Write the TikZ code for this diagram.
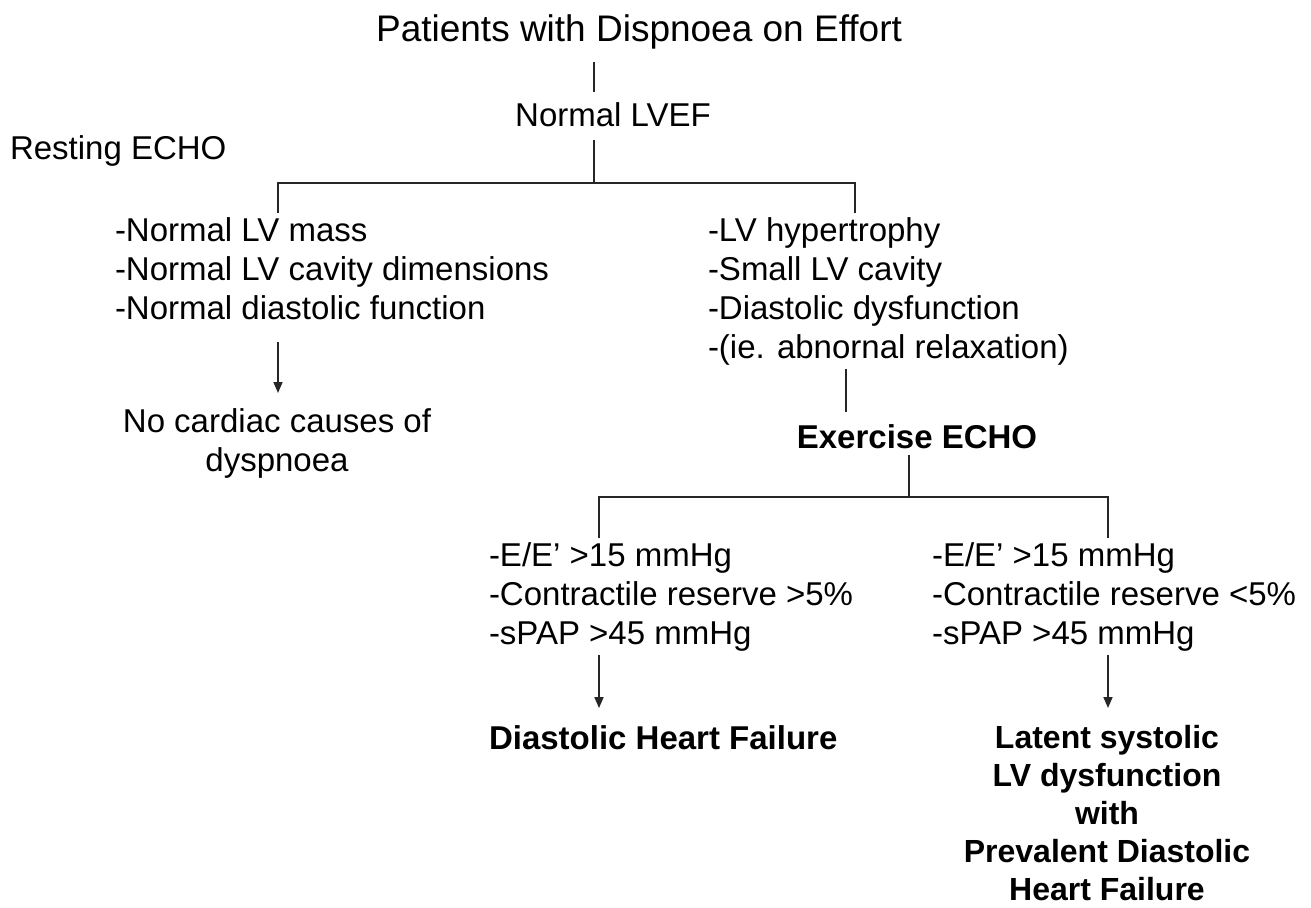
\documentclass[tikz,border=0pt]{standalone}
\usepackage{fontspec}
\setmainfont{Liberation Sans}
\usetikzlibrary{arrows.meta}
\begin{document}
\begin{tikzpicture}[x=1pt,y=-1pt,
  every node/.style={inner sep=0pt, outer sep=0pt},
  titletxt/.style={font=\fontsize{37}{44}\selectfont},
  body/.style={font=\fontsize{33}{39}\selectfont, align=left},
  bodyb/.style={font=\fontsize{33}{39}\selectfont\bfseries, align=center},
  ln/.style={draw=black!85, line width=1.6pt},
  arr/.style={ln, -{Triangle[length=11pt,width=9pt]}}]
\useasboundingbox[fill=white] (0,0) rectangle (1311,907);

% texts
\node[titletxt, anchor=base] (title) at (639,42) {Patients with Dispnoea on Effort};
\node[body, anchor=base] (lvef) at (613,126) {Normal LVEF};
\node[body, anchor=base west] (rest) at (10,159) {Resting ECHO};
\node[body, anchor=north west] (lblk) at (115,218) {-Normal LV mass\\-Normal LV cavity dimensions\\-Normal diastolic function};
\node[body, align=center, anchor=north] (nc) at (277,409) {No cardiac causes of\\dyspnoea};
\node[body, anchor=north west] (rblk) at (708,218) {-LV hypertrophy\\-Small LV cavity\\-Diastolic dysfunction\\-(ie. abnornal relaxation)};
\node[bodyb, anchor=base] (ex) at (917,448) {Exercise ECHO};
\node[body, anchor=north west] (c1) at (489,543) {-E/E’ >15 mmHg\\-Contractile reserve >5\%\\-sPAP >45 mmHg};
\node[body, anchor=north west] (c2) at (932,543) {-E/E’ >15 mmHg\\-Contractile reserve <5\%\\-sPAP >45 mmHg};
\node[bodyb, anchor=base west] (dhf) at (489,749) {Diastolic Heart Failure};
\node[bodyb, font=\fontsize{32}{38}\selectfont\bfseries, anchor=north] (lat) at (1107,725) {Latent systolic\\LV dysfunction\\with\\Prevalent Diastolic\\Heart Failure};

% junctions
\coordinate (j1) at (594,183);
\coordinate (bl) at (278,213);
\coordinate (br) at (855,213);
\coordinate (rx) at (846,0);
\coordinate (j2) at (909,497);
\coordinate (cl) at (599,538);
\coordinate (cr) at (1108,538);

% connectors
\draw[ln, shorten <=12pt, shorten >=10pt] (title.south -| j1) -- (lvef.north -| j1);
\draw[ln, shorten <=14pt] (lvef.south -| j1) -- (j1);
\draw[ln] (bl) |- (j1) -| (br);
\draw[arr, shorten <=22pt, shorten >=16pt] (lblk.south -| bl) -- (nc.north -| bl);
\draw[ln, shorten <=3pt, shorten >=12pt] (rblk.south -| rx) -- (ex.north -| rx);
\draw[ln, shorten <=7pt] (ex.south -| j2) -- (j2);
\draw[ln] (cl) |- (j2) -| (cr);
\draw[arr, shorten <=3pt, shorten >=17pt] (c1.south -| cl) -- (dhf.north -| cl);
\draw[arr, shorten <=3pt, shorten >=17pt] (c2.south -| cr) -- (lat.north -| cr);
\end{tikzpicture}
\end{document}
